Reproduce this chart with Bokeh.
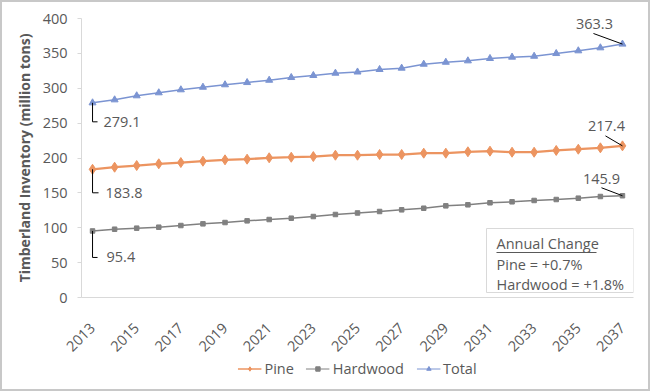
import math
from bokeh.plotting import figure
from bokeh.layouts import column
from bokeh.models import FixedTicker, Legend, LegendItem, Range1d
from bokeh.core.properties import value
from bokeh.embed import file_html
from bokeh.resources import INLINE

# ---------------- data ----------------
years = list(range(2013, 2038))
pine = [183.8, 186.8, 189.2, 191.7, 193.5, 195.4, 197.4, 198.3, 200.3, 201.1,
        202.1, 204.0, 204.0, 205.0, 205.0, 206.9, 206.9, 208.9, 209.8, 208.3,
        208.3, 210.8, 212.6, 214.6, 217.4]
hardwood = [95.4, 97.9, 99.4, 100.8, 103.2, 105.6, 107.5, 109.9, 111.8, 113.7,
            116.1, 119.0, 121.2, 123.3, 125.7, 128.0, 131.4, 132.9, 135.8, 137.2,
            139.1, 140.5, 142.4, 144.8, 145.9]
total = [279.1, 283.4, 289.2, 293.5, 297.8, 301.5, 305.0, 308.2, 311.5, 315.4,
         318.3, 321.6, 323.3, 326.9, 328.8, 334.5, 337.3, 339.3, 342.7, 344.6,
         345.9, 349.8, 353.7, 358.0, 363.3]
x_ticks = [2013, 2015, 2017, 2019, 2021, 2023, 2025, 2027, 2029, 2031, 2033, 2035, 2037]
x_tick_labels = [str(t) for t in x_ticks]
y_ticks = [0, 50, 100, 150, 200, 250, 300, 350, 400]
series_names = ["Pine", "Hardwood", "Total"]
box_lines = ["Annual Change", "Pine = +0.7%", "Hardwood = +1.8%"]

# ---------------- style ----------------
PINE = "#EC9460"
HARD = "#808080"
TOTAL = "#7B94D2"
TXT = "#595959"
FONT = "Open Sans"
AX = "#d9d9d9"
FS = "14.5px"

W, H1, H2, OVER = 646, 357, 42, 12
ML, MR, MT, MB = 79, 15, 16, 62
X0, X1, Y0, Y1 = 2012.5, 2037.5, 0, 400
FW, FH = W - ML - MR, H1 - MT - MB
sx = FW / (X1 - X0)   # px per year
sy = FH / (Y1 - Y0)   # px per unit

def px2x(px):  # canvas px -> data x
    return X0 + (px - ML) / sx

def px2y(py):
    return Y1 - (py - MT) / sy

p = figure(width=W, height=H1, x_range=Range1d(X0, X1), y_range=Range1d(Y0, Y1),
           output_backend="svg", toolbar_location=None, title=None,
           min_border_left=ML, min_border_right=MR, min_border_top=MT, min_border_bottom=MB)
p.outline_line_color = None
p.xgrid.visible = False
p.ygrid.visible = False

# axes
p.yaxis.ticker = FixedTicker(ticks=y_ticks)
p.yaxis.axis_label = "Timberland Inventory (million tons)"
p.yaxis.axis_label_text_font = FONT
p.yaxis.axis_label_text_font_style = "bold"
p.yaxis.axis_label_text_font_size = "14px"
p.yaxis.axis_label_text_color = TXT
p.yaxis.axis_label_standoff = 6
p.yaxis.major_label_text_font = FONT
p.yaxis.major_label_text_font_size = FS
p.yaxis.major_label_text_color = TXT
p.yaxis.major_label_standoff = 10
p.yaxis.axis_line_color = AX
p.yaxis.major_tick_line_color = AX
p.yaxis.major_tick_out = 4
p.yaxis.major_tick_in = 0
p.yaxis.minor_tick_line_color = None

p.xaxis.ticker = FixedTicker(ticks=x_ticks)
p.xaxis.major_label_overrides = {t: l for t, l in zip(x_ticks, x_tick_labels)}
p.xaxis.major_label_orientation = math.pi / 4
p.xaxis.major_label_text_font = FONT
p.xaxis.major_label_text_font_size = FS
p.xaxis.major_label_text_color = TXT
p.xaxis.major_label_standoff = 22
p.xaxis.axis_line_color = AX
p.xaxis.major_tick_line_color = None
p.xaxis.minor_tick_line_color = None

# series
p.line(years, pine, line_color=PINE, line_width=2.25)
p.scatter(years, pine, marker="diamond", size=10, fill_color=PINE, line_color=PINE)
p.line(years, hardwood, line_color=HARD, line_width=1.5)
p.scatter(years, hardwood, marker="square", size=4.5, fill_color=HARD, line_color=HARD)
p.line(years, total, line_color=TOTAL, line_width=1.5)
p.scatter(years, total, marker="triangle", size=7, fill_color=TOTAL, line_color=TOTAL)

# callouts at the first year: (text dx, text dy, line end dx) in px, dy positive downward
start_off = [(total, 11, 19, 5), (pine, 13, 23.5, 6), (hardwood, 14, 26.5, 5)]
xs_l, ys_l, tx, ty, tt = [], [], [], [], []
for ser, dx, dy, lx in start_off:
    x0, y0 = years[0], ser[0]
    y1 = y0 - dy / sy
    xs_l.append([x0, x0, x0 + lx / sx])
    ys_l.append([y0, y1, y1])
    tx.append(x0 + dx / sx)
    ty.append(y1)
    tt.append(f"{ser[0]:.1f}")
p.multi_line(xs_l, ys_l, line_color="black", line_width=1)
p.text(tx, ty, text=tt, text_align="left", text_baseline="middle",
       text_font=value(FONT), text_font_size=FS, text_color=TXT)

# callouts at the last year: (text dx, text dy, leader dx, leader dy)
end_off = [(total, -28, -20, -29, -10.6), (pine, -16, -20, -17, -10), (hardwood, -21, -17, -21, -8)]
xs_e, ys_e, ex, ey, et = [], [], [], [], []
for ser, dx, dy, lx, ly in end_off:
    x0, y0 = years[-1], ser[-1]
    xs_e.append([x0, x0 + lx / sx])
    ys_e.append([y0, y0 - ly / sy])
    ex.append(x0 + dx / sx)
    ey.append(y0 - dy / sy)
    et.append(f"{ser[-1]:.1f}")
p.multi_line(xs_e, ys_e, line_color="black", line_width=1)
p.text(ex, ey, text=et, text_align="center", text_baseline="middle",
       text_font=value(FONT), text_font_size=FS, text_color=TXT)

# annual change box (canvas px)
bl, br, bt, bb = 484, 631, 226, 290
p.quad(left=[px2x(bl)], right=[px2x(br)], top=[px2y(bt)], bottom=[px2y(bb)],
       fill_color="white", line_color=AX, line_width=1)
p.text([px2x(494)] * 3, [px2y(241), px2y(262), px2y(282)], text=box_lines,
       text_align="left", text_baseline="middle",
       text_font=value(FONT), text_font_size=FS, text_color=TXT)
p.segment(x0=[px2x(494)], y0=[px2y(250)], x1=[px2x(594)], y1=[px2y(250)],
          line_color=TXT, line_width=1)

# legend strip (overlaps the bottom of the chart slightly)
lg = figure(width=W, height=H2, x_range=Range1d(0, W), y_range=Range1d(0, H2),
            output_backend="svg", toolbar_location=None, title=None,
            x_axis_type=None, y_axis_type=None, min_border=0,
            styles={"margin-top": f"-{OVER}px"})
lg.outline_line_color = None
lg.background_fill_alpha = 0
lg.border_fill_alpha = 0
lg.xgrid.visible = False
lg.ygrid.visible = False
styles = [(PINE, 1.5, "diamond", 6), (HARD, 1.0, "square", 3.5), (TOTAL, 1.0, "triangle", 5)]
items = []
for name, (c, lw, mk, sz) in zip(series_names, styles):
    r1 = lg.line([-1000, -999], [-1000, -1000], line_color=c, line_width=lw)
    r2 = lg.scatter([-1000], [-1000], marker=mk, size=sz, fill_color=c, line_color=c)
    items.append(LegendItem(label=name, renderers=[r1, r2]))
legend = Legend(items=items, orientation="horizontal", location="center")
legend.label_text_font = FONT
legend.label_text_font_size = FS
legend.label_text_color = TXT
legend.glyph_width = 24
legend.glyph_height = 11
legend.label_height = 20
legend.label_standoff = 3
legend.spacing = 12
legend.padding = 0
legend.margin = 0
legend.border_line_color = None
legend.background_fill_alpha = 0
lg.add_layout(legend)

layout = column(p, lg, spacing=0, styles={"border": "2px solid #c8c8c8", "background": "white"})
open("out.html", "w").write(file_html(layout, INLINE))
